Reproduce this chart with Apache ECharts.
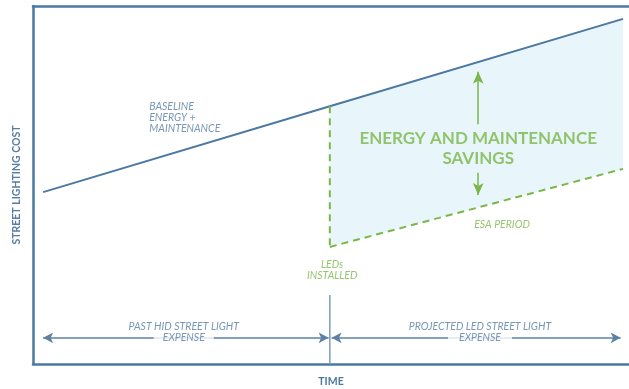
<!DOCTYPE html>
<html>
<head>
<meta charset="utf-8">
<script src="https://cdn.jsdelivr.net/npm/echarts@6/dist/echarts.min.js"></script>
<style>
  html, body { margin: 0; padding: 0; background: #fff; }
  #main { width: 629px; height: 389px; }
</style>
</head>
<body>
<div id="main"></div>
<script>
// time runs 0..100, cost runs 0..100 (schematic, no units)
var timePts = [1.7, 49.8, 99];          // start, LEDs installed, end
var baselineCost = [48, 72, 96.4];      // baseline energy + maintenance
var ledTime = [49.8, 99];
var ledCost = [32.7, 54.5];             // ESA period
var dividerCost = [0, 19.3];            // grey divider at LED install time
var expenseY = 7.3;                     // height of the expense arrows
var pastSpan = [1.7, 49.6];
var futureSpan = [50.1, 98.6];
var savingsX = 74.7;
var savingsUp = [67, 81.6];
var savingsDown = [53.4, 47.2];

var blue = '#4b79a1';
var textBlue = '#567ca3';
var green = '#7ab648';
var font = 'Lato';

var chart = echarts.init(document.getElementById('main'));

var baseline = timePts.map(function (t, i) { return [t, baselineCost[i]]; });
var ledLine = ledTime.map(function (t, i) { return [t, ledCost[i]]; });

function arrow(a, b, color, size) {
  return [{ coord: a, symbol: 'arrow', symbolSize: size },
          { coord: b, symbol: 'arrow', symbolSize: size, lineStyle: { color: color } }];
}

var italicBlue = { color: textBlue, fontStyle: 'italic', fontSize: 10.5, lineHeight: 11, fontFamily: font };

var option = {
  animation: false,
  grid: { left: 33, right: 0, top: 6, bottom: 25, containLabel: false, outerBoundsMode: 'none' },
  xAxis: [{
    type: 'value', min: 0, max: 100,
    name: 'TIME', nameLocation: 'middle', nameGap: 12,
    nameTextStyle: { color: blue, fontFamily: font, fontWeight: 'bold', fontSize: 10.5 },
    axisLine: { show: true, onZero: false, lineStyle: { color: blue, width: 2.5 } },
    axisTick: { show: false }, axisLabel: { show: false }, splitLine: { show: false }
  }, {
    type: 'value', min: 0, max: 100, position: 'top',
    axisLine: { show: true, onZero: false, lineStyle: { color: blue, width: 2.5 } },
    axisTick: { show: false }, axisLabel: { show: false }, splitLine: { show: false }
  }],
  yAxis: {
    type: 'value', min: 0, max: 100,
    name: 'STREET LIGHTING COST', nameLocation: 'middle', nameGap: 11, nameRotate: 90,
    nameTextStyle: { color: textBlue, fontFamily: font, fontWeight: 'bold', fontSize: 10.5 },
    axisLine: { show: true, onZero: false, lineStyle: { color: blue, width: 2.5 } },
    axisTick: { show: false }, axisLabel: { show: false }, splitLine: { show: false }
  },
  series: [
    {
      // savings area between baseline and LED line
      type: 'custom',
      silent: true,
      data: [[0]],
      z: 1,
      renderItem: function (params, api) {
        var pts = [
          api.coord(baseline[1]), api.coord(baseline[2]),
          api.coord(ledLine[1]), api.coord(ledLine[0])
        ];
        return { type: 'polygon', shape: { points: pts }, style: { fill: '#e8f6fb' } };
      }
    },
    {
      name: 'Baseline',
      type: 'line',
      data: baseline,
      symbol: 'none',
      z: 3,
      lineStyle: { color: blue, width: 2 }
    },
    {
      name: 'ESA period',
      type: 'line',
      data: ledLine,
      symbol: 'none',
      z: 3,
      lineStyle: { color: green, width: 2, type: [7, 5] }
    },
    {
      name: 'LED drop',
      type: 'line',
      data: [[ledTime[0], baselineCost[1]], [ledTime[0], ledCost[0]]],
      symbol: 'none',
      z: 3,
      lineStyle: { color: green, width: 2, type: [7, 5] }
    },
    {
      name: 'Divider',
      type: 'line',
      data: [[ledTime[0], dividerCost[0]], [ledTime[0], dividerCost[1]]],
      symbol: 'none',
      z: 2,
      lineStyle: { color: '#7d9dba', width: 1.5 }
    },
    {
      name: 'Arrows',
      type: 'line',
      data: [],
      z: 2,
      markLine: {
        silent: true,
        label: { show: false },
        lineStyle: { color: '#5b82a6', width: 1.5, type: 'solid' },
        data: [
          arrow([pastSpan[0], expenseY], [pastSpan[1], expenseY], '#5b82a6', [8, 10]),
          arrow([futureSpan[0], expenseY], [futureSpan[1], expenseY], '#5b82a6', [8, 10]),
          [{ coord: [savingsX, savingsUp[0]], symbol: 'none', lineStyle: { color: green } },
           { coord: [savingsX, savingsUp[1]], symbol: 'arrow', symbolSize: [8, 12] }],
          [{ coord: [savingsX, savingsDown[0]], symbol: 'none', lineStyle: { color: green } },
           { coord: [savingsX, savingsDown[1]], symbol: 'arrow', symbolSize: [8, 12] }]
        ]
      }
    },
    {
      name: 'Labels',
      type: 'scatter',
      symbolSize: 0,
      silent: true,
      z: 6,
      label: { show: true, position: 'inside', fontFamily: font },
      data: [
        { value: [19.5, 68.7], label: Object.assign({ formatter: 'BASELINE\nENERGY +\nMAINTENANCE', align: 'left' }, italicBlue) },
        { value: [savingsX, 60.3], label: { formatter: 'ENERGY AND MAINTENANCE\nSAVINGS', color: green, fontWeight: 'bold', fontSize: 17, lineHeight: 20 } },
        { value: [78.7, 38.8], label: { formatter: 'ESA PERIOD', color: green, fontStyle: 'italic', fontSize: 10.5 } },
        { value: [50.2, 26.3], label: { formatter: 'LEDs\nINSTALLED', color: green, fontStyle: 'italic', fontSize: 10.5, lineHeight: 11 } },
        { value: [25.3, 8.8], label: {
          formatter: '{a|PAST HID STREET LIGHT}\n{b|EXPENSE}',
          rich: { a: italicBlue, b: Object.assign({ backgroundColor: '#fff', padding: [0, 9] }, italicBlue) } } },
        { value: [75.0, 8.8], label: {
          formatter: '{a|PROJECTED LED STREET LIGHT}\n{b|EXPENSE}',
          rich: { a: italicBlue, b: Object.assign({ backgroundColor: '#fff', padding: [0, 11] }, italicBlue) } } }
      ]
    }
  ]
};

chart.setOption(option);
</script>
</body>
</html>
